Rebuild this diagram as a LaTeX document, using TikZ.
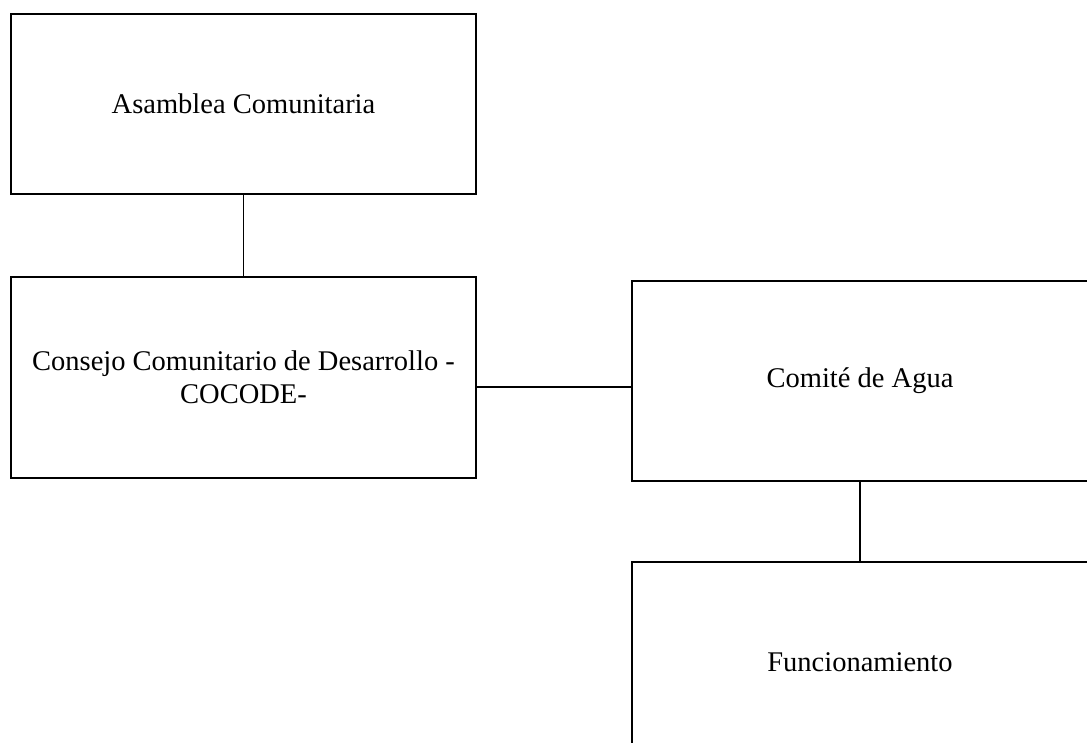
\documentclass[tikz,border=0pt]{standalone}
\usepackage{fontspec}
\setmainfont{Liberation Serif}
\begin{document}
\begin{tikzpicture}[x=1pt,y=-1pt,
  orgbox/.style={draw=black, line width=1.6pt, rectangle, inner sep=0pt, align=center,
    font=\fontsize{28.5}{33}\selectfont},
  link/.style={draw=black, line width=1.6pt}]
\useasboundingbox (0,0) rectangle (1087,742);
\node[orgbox, minimum width=465pt, minimum height=180pt] (asm) at (243.5,104) {Asamblea Comunitaria};
\node[orgbox, minimum width=465pt, minimum height=201pt] (con) at (243.5,377.5) {Consejo Comunitario de Desarrollo -\\COCODE-};
\node[orgbox, minimum width=456pt, minimum height=200pt] (com) at (860,381) {Comité de Agua};
\node[orgbox, minimum width=456pt, minimum height=200pt] (fun) at (860,662) {Funcionamiento};
\coordinate (hy) at (0,387);
\draw[link] (asm.south) -- (con.north);
\draw[link] (con.east |- hy) -- (com.west |- hy);
\draw[link] (com.south) -- (fun.north);
\end{tikzpicture}
\end{document}
